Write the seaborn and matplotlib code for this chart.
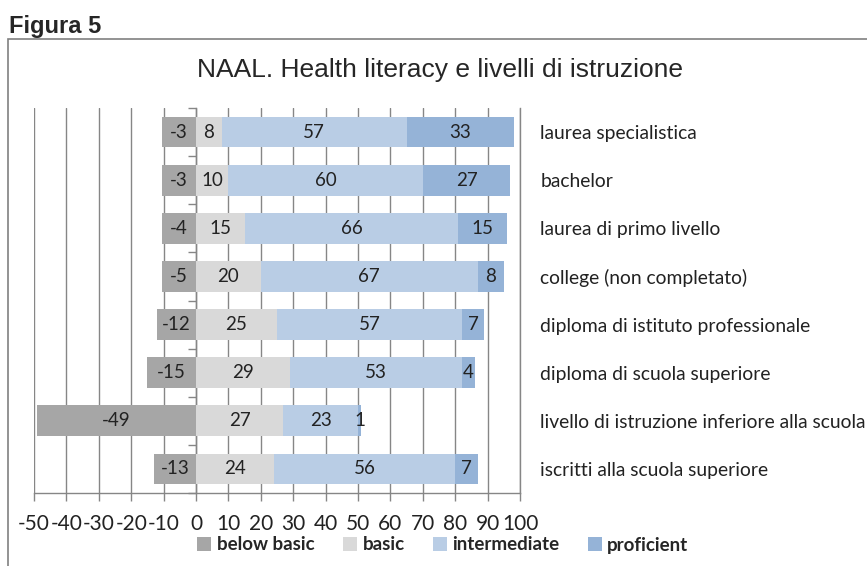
import numpy as np
import pandas as pd
import matplotlib
matplotlib.use("Agg")
import matplotlib.pyplot as plt
import seaborn as sns
from matplotlib.patches import Rectangle, Patch
from matplotlib.ticker import FixedLocator, MultipleLocator

# dati (NAAL, health literacy per livello di istruzione)
categories = [
    "laurea specialistica",
    "bachelor",
    "laurea di primo livello",
    "college (non completato)",
    "diploma di istituto professionale",
    "diploma di scuola superiore",
    "livello di istruzione inferiore alla scuola superiore",
    "iscritti alla scuola superiore",
]
below_basic = [-3, -3, -4, -5, -12, -15, -49, -13]            # etichette
below_basic_bar = [-10.6, -10.6, -10.6, -10.6, -12, -15, -49, -13]  # lunghezza disegnata
basic = [8, 10, 15, 20, 25, 29, 27, 24]
intermediate = [57, 60, 66, 67, 57, 53, 23, 56]
proficient = [33, 27, 15, 8, 7, 4, 1, 7]

levels = ["below basic", "basic", "intermediate", "proficient"]
colors = ["#A6A6A6", "#D9D9D9", "#B9CDE5", "#95B3D7"]
grid_col = "#868686"
text_col = "#222222"

sns.set_style("white")
plt.rcParams["font.family"] = ["Lato", "DejaVu Sans"]
plt.rcParams["axes.unicode_minus"] = False

df = pd.DataFrame({
    "categoria": categories,
    "below": below_basic_bar,
    "c1": basic,
})
df["c2"] = df["c1"] + np.array(intermediate)
df["c3"] = df["c2"] + np.array(proficient)

fig = plt.figure(figsize=(8.67, 5.66), dpi=100)
ax = fig.add_axes([34 / 867, 73 / 566, (520 - 34) / 867, (493 - 108) / 566])

# barre impilate: totali cumulativi disegnati dal più lungo al più corto
for col, color in [("c3", colors[3]), ("c2", colors[2]), ("c1", colors[1]), ("below", colors[0])]:
    sns.barplot(data=df, x=col, y="categoria", orient="h", color=color,
                saturation=1, width=0.64, linewidth=0, errorbar=None, ax=ax)

# etichette dei valori al centro di ogni segmento
fs = 13.5
for i in range(len(categories)):
    b, m, p = basic[i], intermediate[i], proficient[i]
    ax.text(below_basic_bar[i] / 2, i, str(below_basic[i]), ha="center", va="center", fontsize=fs, color=text_col)
    ax.text(b / 2, i, str(b), ha="center", va="center", fontsize=fs, color=text_col)
    ax.text(b + m / 2, i, str(m), ha="center", va="center", fontsize=fs, color=text_col)
    ax.text(b + m + p / 2, i, str(p), ha="center", va="center", fontsize=fs, color=text_col)

ax.set_xlim(-50, 100)
ax.set_ylim(len(categories) - 0.5, -0.5)
ax.set_xlabel("")
ax.set_ylabel("")
ax.xaxis.set_major_locator(MultipleLocator(10))
ax.set_axisbelow(True)
ax.grid(axis="x", color=grid_col, lw=1)
ax.grid(axis="y", visible=False)

ax.spines["top"].set_visible(False)
ax.spines["left"].set_position(("data", 0))
for s in ["left", "right", "bottom"]:
    ax.spines[s].set_color(grid_col)
    ax.spines[s].set_linewidth(1)
    ax.spines[s].set_zorder(0.5)

ax.yaxis.set_minor_locator(FixedLocator(np.arange(-0.5, len(categories), 1)))
ax.tick_params(axis="y", which="major", left=False, right=False,
               labelleft=False, labelright=True, pad=11, labelsize=13.9, labelcolor=text_col)
ax.tick_params(axis="y", which="minor", left=True, right=False, length=6,
               width=1, color=grid_col, direction="out")
ax.tick_params(axis="x", which="major", bottom=True, length=6, width=1, color=grid_col,
               direction="out", labelsize=15, labelcolor=text_col, pad=9)

handles = [Patch(facecolor=c, edgecolor="none", label=l) for c, l in zip(colors, levels)]
fig.legend(handles=handles, loc="center", bbox_to_anchor=(443 / 867, 1 - 545 / 566), ncol=4,
           frameon=False, prop={"family": "Lato", "weight": "bold", "size": 13.5},
           handlelength=0.75, handleheight=0.75, handletextpad=0.3, columnspacing=1.5)

# cornice del grafico e titoli
fig.patches.append(Rectangle((8 / 867, -0.05), 1.0, 0.931 + 0.05, transform=fig.transFigure,
                             fill=False, edgecolor="#808080", lw=1.2))
fig.text(9 / 867, 1 - 33 / 566, "Figura 5", fontsize=17, fontweight="bold",
         family="Liberation Sans", va="baseline", ha="left")
fig.text(0.507, 1 - 77 / 566, "NAAL. Health literacy e livelli di istruzione", fontsize=19,
         family="Liberation Sans", va="baseline", ha="center")

fig.savefig("out.png", dpi=100)
